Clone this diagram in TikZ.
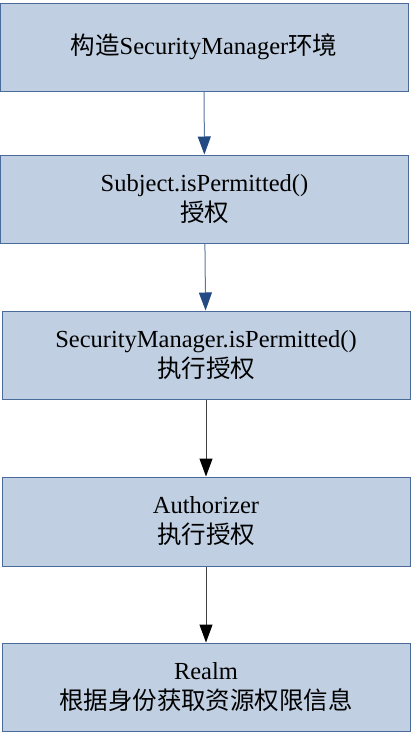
\documentclass[tikz,border=0pt]{standalone}
\usepackage{fontspec}
\setmainfont{Liberation Serif}
\newfontfamily\cjk{Noto Sans CJK SC}
\usepackage{xcolor}
\usetikzlibrary{arrows.meta, positioning}

\definecolor{boxfill}{HTML}{C0CFE2}
\definecolor{boxline}{HTML}{4A6A9A}
\definecolor{arrowblue}{HTML}{234A82}

\begin{document}
\begin{tikzpicture}[
    x=1pt, y=-1pt,
    stepbox/.style={draw=boxline, line width=1pt, fill=boxfill, rectangle, minimum width=408pt, minimum height=88pt, inner sep=0pt, align=center, font=\fontsize{24.5}{30}\selectfont},
    bluearrow/.style={-{Triangle[width=13pt,length=18pt,color=arrowblue]}, draw=arrowblue!75, line width=1pt},
    blackarrow/.style={-{Triangle[width=13pt,length=18pt,color=black]}, draw=black!75, line width=1pt}
]

\useasboundingbox (0,0) rectangle (411,734);

% Boxes
\node[stepbox] (env) at (204, 47) {{\cjk 构造}SecurityManager{\cjk 环境}};

\node[stepbox] (subject) at (204.5, 199) {Subject.isPermitted()\\{\cjk 授权}};

\node[stepbox] (manager) at (206, 355) {SecurityManager.isPermitted()\\{\cjk 执行授权}};

\node[stepbox, minimum height=89pt] (authorizer) at (206, 521.5) {Authorizer\\{\cjk 执行授权}};

\node[stepbox] (realm) at (206, 687) {Realm\\{\cjk 根据身份获取资源权限信息}};

% Arrows
\draw[bluearrow] (env) -- (subject);
\draw[bluearrow] (subject) -- (manager);
\draw[blackarrow] (manager) -- (authorizer);
\draw[blackarrow] (authorizer) -- (realm);

\end{tikzpicture}
\end{document}
